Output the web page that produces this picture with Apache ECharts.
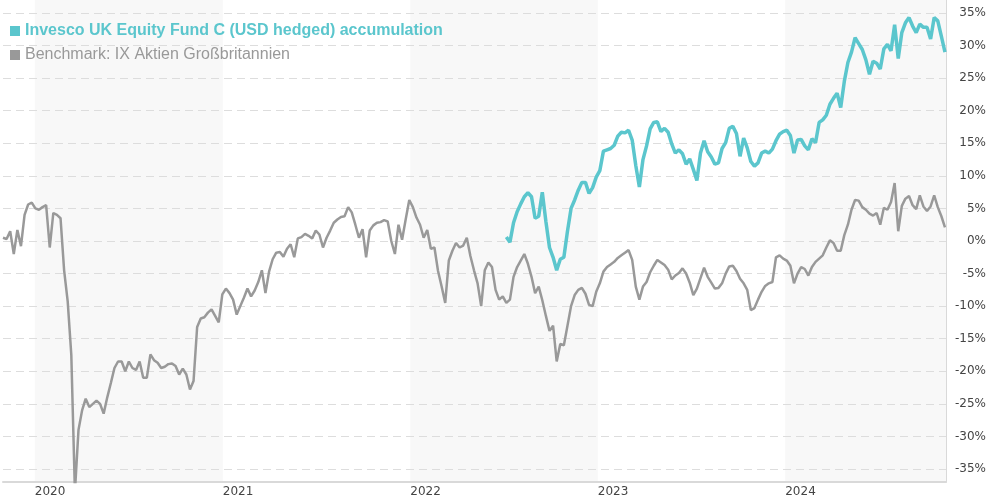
<!DOCTYPE html>
<html>
<head>
<meta charset="utf-8">
<script src="https://cdn.jsdelivr.net/npm/echarts@6/dist/echarts.min.js"></script>
<style>
  html, body { margin: 0; padding: 0; background: #fff; }
  #chart { width: 989px; height: 500px; }
</style>
</head>
<body>
<div id="chart"></div>
<script>
// weekly closes, performance in %, first week 2019-10-31
const START = Date.UTC(2019, 9, 31)
const END = Date.UTC(2024, 10, 9)
const WEEK = 7 * 24 * 3600 * 1000

const BENCH_NAME = 'Benchmark: IX Aktien Großbritannien'
const FUND_NAME = 'Invesco UK Equity Fund C (USD hedged) accumulation'

const benchmark = [
  0.5, 0.3, 1.5, -2.0, 1.7, -0.8, 4.0, 5.6, 5.9, 5.0,
  4.8, 5.2, 5.5, -1.0, 4.3, 4.0, 3.5, -4.5, -9.3, -17.5,
  -38.5, -29, -26, -24.2, -25.5, -25, -24.5, -25, -26.5, -24,
  -21.8, -19.5, -18.5, -18.5, -20, -18.5, -19.5, -19.8, -18.5, -21,
  -21, -17.4, -18.3, -18.7, -19.5, -19.3, -18.9, -18.8, -19.2, -20.5,
  -19.6, -20.5, -22.8, -21.5, -13.2, -11.9, -11.7, -11, -10.5, -11.5,
  -12.5, -8.2, -7.3, -8, -9, -11.3, -10, -8.7, -7.3, -8.5,
  -7.6, -6.3, -4.5, -8, -4.7, -2.8, -1.8, -1.7, -2.4, -1.2,
  -0.5, -2.5, 0.4, 0.6, 1.1, 0.8, 0.4, 1.6, 1.0, -1.0,
  0.5, 1.6, 2.8, 3.3, 3.7, 3.8, 5.2, 4.4, 2.5, 0.5,
  1.8, -2.5, 1.6, 2.4, 2.8, 2.9, 3.2, 3.0, 0.0, -2.0,
  2.5, 0.2, 3.3, 6.3, 5.2, 3.6, 2.5, 0.5, 1.7, -1.2,
  -1.0, -4.6, -7, -9.5, -3, -1.5, -0.3, -1.0, -0.7, 0.5,
  -2.3, -4.5, -6.5, -10, -4.5, -3.3, -4, -7.5, -9, -8.5,
  -9.5, -9, -5.5, -4, -3, -2, -3.5, -5.5, -8, -7,
  -9.1, -11.5, -13.8, -13, -18.5, -15.8, -16, -13, -10, -8.3,
  -7.5, -7.2, -8.1, -9.8, -10, -7.8, -6.5, -4.7, -4, -3.6,
  -3.2, -2.6, -2.2, -1.8, -1.4, -2.9, -7, -9, -7, -6.3,
  -4.8, -3.8, -2.9, -3.3, -3.7, -4.4, -5.9, -5.3, -4.9, -4.2,
  -5, -6.4, -8.3, -7.3, -5.7, -4.1, -5.5, -6.4, -7.3, -7.2,
  -6.5, -5, -3.9, -3.8, -4.6, -5.8, -6.5, -7.5, -10.6, -10.3,
  -9, -7.8, -6.9, -6.5, -6.3, -2.5, -2.2, -2.7, -3, -3.8,
  -6.5, -5, -4, -4.3, -5.3, -4, -3.2, -2.7, -2.2, -1,
  0.1, -0.3, -1.5, -1.5, 0.9, 2.5, 4.8, 6.3, 6.2, 5.2,
  4.8, 4.2, 3.9, 4.3, 2.5, 5.1, 4.8, 6, 8.9, 1.5,
  5.4, 6.5, 6.9, 5.5, 4.9, 7, 5.3, 4.6, 5.3, 7,
  5.2, 3.8, 2.1
]

// fund starts in week 140 (2022-07-07)
const FUND_FIRST_WEEK = 140
const fund = [
  0.6, -0.2, 2.8, 4.5, 5.7, 6.8, 7.4, 6.8, 3.5, 3.8,
  7.5, 3.0, -1.0, -2.5, -4.5, -2.8, -2.5, 1.5, 5, 6.3,
  7.8, 9, 9, 7.3, 8.2, 9.8, 10.8, 13.8, 14, 14.2,
  14.7, 16.1, 16.7, 16.6, 17, 15.5, 11.6, 8.3, 12.5, 14.6,
  17.2, 18.2, 18.3, 16.8, 17.3, 16.7, 14.9, 13.5, 14, 13.4,
  11.8, 12.6, 11, 9.3, 13.5, 15.4, 13.7, 12.9, 11.8, 12,
  14.2, 15.1, 17.3, 17.6, 16.5, 13, 15.8, 14.3, 12.2, 11.5,
  12, 13.5, 13.8, 13.5, 14.1, 15.4, 16.4, 16.8, 17, 16.2,
  13.5, 15.5, 15.6, 14.6, 14, 15.7, 15.1, 18.2, 18.6, 19.3,
  21, 21.9, 22.7, 20.5, 24.5, 27.4, 29, 31.2, 30.3, 29.4,
  27.8, 25.6, 27.6, 27.3, 26.4, 29.5, 30.2, 29.2, 33.2, 28,
  32, 33.5, 34.3, 33, 32, 33.3, 32.8, 32.8, 31, 34.3,
  33.8, 31.4, 29
]

const YEARS = [2020, 2021, 2022, 2023, 2024]
const SHADED_YEARS = [2020, 2022, 2024]
const Y_TICKS = [-35, -30, -25, -20, -15, -10, -5, 0, 5, 10, 15, 20, 25, 30, 35]

const TEAL = '#5bc6cd'
const GREY = '#999999'

const weekDate = i => START + i * WEEK
const benchData = benchmark.map((v, i) => [weekDate(i), v])
const fundData = fund.map((v, i) => [weekDate(FUND_FIRST_WEEK + i), v])

const yearStart = y => Date.UTC(y, 0, 1)
const bands = SHADED_YEARS.map(y => [
  { xAxis: yearStart(y) },
  { xAxis: Math.min(yearStart(y + 1), END) }
])

const chart = echarts.init(document.getElementById('chart'))
const option = {
  animation: false,
  backgroundColor: '#fff',
  grid: {
    left: 3,
    right: 41,
    top: 0,
    bottom: 18
  },
  legend: {
    orient: 'vertical',
    left: 10,
    top: 23,
    padding: 0,
    icon: 'rect',
    itemWidth: 10,
    itemHeight: 10,
    itemGap: 8,
    textStyle: {
      fontFamily: 'Liberation Sans',
      fontSize: 16
    },
    data: [
      { name: FUND_NAME, textStyle: { color: TEAL, fontWeight: 'bold' } },
      { name: BENCH_NAME, textStyle: { color: GREY } }
    ]
  },
  xAxis: {
    // timestamps on a value axis so the year labels can sit on Jan 1st
    type: 'value',
    min: START,
    max: END,
    axisLine: {
      show: true,
      onZero: false,
      lineStyle: { color: '#d9d9d9', width: 2 }
    },
    axisTick: { show: false },
    splitLine: { show: false },
    axisLabel: {
      customValues: YEARS.map(yearStart),
      formatter: v => String(new Date(v).getUTCFullYear()),
      align: 'left',
      margin: 4,
      color: '#444',
      fontFamily: 'DejaVu Sans',
      fontSize: 12
    }
  },
  yAxis: {
    type: 'value',
    position: 'right',
    min: -37,
    max: 37,
    axisLine: {
      show: true,
      lineStyle: { color: '#d9d9d9', width: 1 }
    },
    axisTick: { show: false, customValues: Y_TICKS },
    splitLine: {
      show: true,
      lineStyle: { color: '#dddddd', width: 1, type: [8, 5] }
    },
    axisLabel: {
      customValues: Y_TICKS,
      formatter: '{value}%',
      align: 'right',
      margin: 40,
      color: '#444',
      fontFamily: 'DejaVu Sans',
      fontSize: 12
    }
  },
  series: [
    {
      name: BENCH_NAME,
      type: 'line',
      data: benchData,
      showSymbol: false,
      color: GREY,
      lineStyle: { color: GREY, width: 2.5 },
      z: 2,
      markArea: {
        silent: true,
        z: -1,
        itemStyle: { color: '#f8f8f8' },
        data: bands
      }
    },
    {
      name: FUND_NAME,
      type: 'line',
      data: fundData,
      showSymbol: false,
      color: TEAL,
      lineStyle: { color: TEAL, width: 3.5 },
      z: 3
    }
  ]
}
chart.setOption(option)
</script>
</body>
</html>
